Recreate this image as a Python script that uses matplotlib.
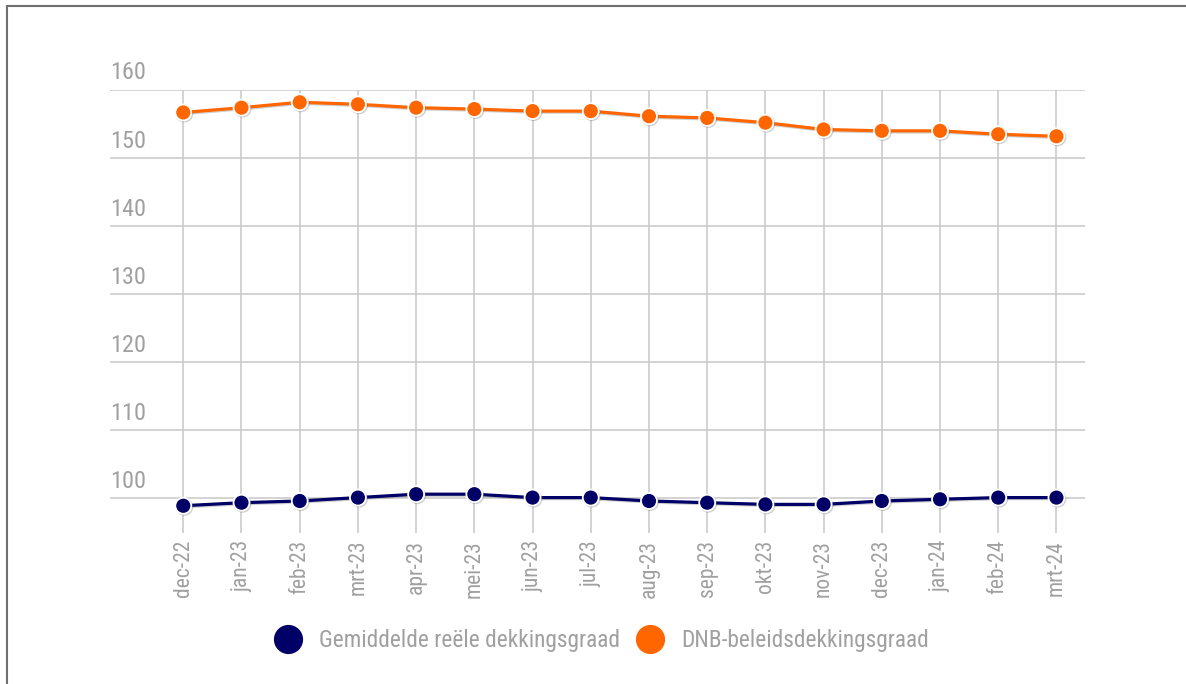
import matplotlib
matplotlib.use("Agg")
import matplotlib.pyplot as plt
import matplotlib.patheffects as pe
from matplotlib.lines import Line2D

plt.rcParams['font.family'] = ['Roboto Condensed', 'DejaVu Sans']

months = ['dec-22', 'jan-23', 'feb-23', 'mrt-23', 'apr-23', 'mei-23', 'jun-23', 'jul-23',
          'aug-23', 'sep-23', 'okt-23', 'nov-23', 'dec-23', 'jan-24', 'feb-24', 'mrt-24']
reeel = [98.9, 99.35, 99.6, 100.1, 100.6, 100.6, 100.1, 100.1,
         99.6, 99.35, 99.1, 99.1, 99.6, 99.85, 100.1, 100.1]
dnb = [156.7, 157.4, 158.2, 157.9, 157.4, 157.2, 156.9, 156.9,
       156.15, 155.9, 155.2, 154.2, 154.0, 154.0, 153.5, 153.2]
yticks = [100, 110, 120, 130, 140, 150, 160]

navy = '#000066'
orange = '#ff6600'
grey_txt = '#a0a0a0'

fig = plt.figure(figsize=(11.86, 6.84), dpi=100)
ax = fig.add_axes([0.0927, 0.2208, 0.8221, 0.6476])

x = list(range(len(months)))
# faint shadow under the lines, like the original
shadow = [pe.SimpleLineShadow(offset=(0.8, -0.8), alpha=0.3, shadow_color='#666666'), pe.Normal()]
ax.plot(x, reeel, color=navy, lw=2.3, marker='o', ms=11.5, mec='white', mew=1.3,
        path_effects=shadow, zorder=3)
ax.plot(x, dnb, color=orange, lw=2.3, marker='o', ms=11.5, mec='white', mew=1.3,
        path_effects=shadow, zorder=3)

ax.set_xlim(-1.26, 15.49)
ax.set_ylim(94.9, 160)
ax.set_xticks(x)
ax.set_xticklabels(months, rotation=90, color=grey_txt, fontsize=15.5)
ax.set_yticks(yticks)
ax.set_yticklabels([])
ax.tick_params(length=0, pad=5)
# y labels sit on top of the gridlines
for t in yticks:
    ax.annotate(str(t), xy=(0, t), xycoords=('axes fraction', 'data'),
                xytext=(0, 4), textcoords='offset points',
                ha='left', va='bottom', color=grey_txt, fontsize=17.5)
ax.grid(True, color='#c8c8c8', lw=1.1)
ax.set_axisbelow(True)
for s in ax.spines.values():
    s.set_visible(False)

handles = [Line2D([], [], ls='', marker='o', ms=20, color=navy),
           Line2D([], [], ls='', marker='o', ms=20, color=orange)]
fig.legend(handles, ['Gemiddelde reële dekkingsgraad', 'DNB-beleidsdekkingsgraad'],
           loc='center', bbox_to_anchor=(0.503, 0.064), ncol=2, frameon=False,
           fontsize=16.8, labelcolor=grey_txt, handletextpad=0.35, columnspacing=0.27)

# border top and left
fig.add_artist(Line2D([0.0055, 1], [0.9905, 0.9905], color='#707070', lw=1.5))
fig.add_artist(Line2D([0.0055, 0.0055], [0, 0.9905], color='#707070', lw=1.5))

fig.savefig('out.png', dpi=100)
